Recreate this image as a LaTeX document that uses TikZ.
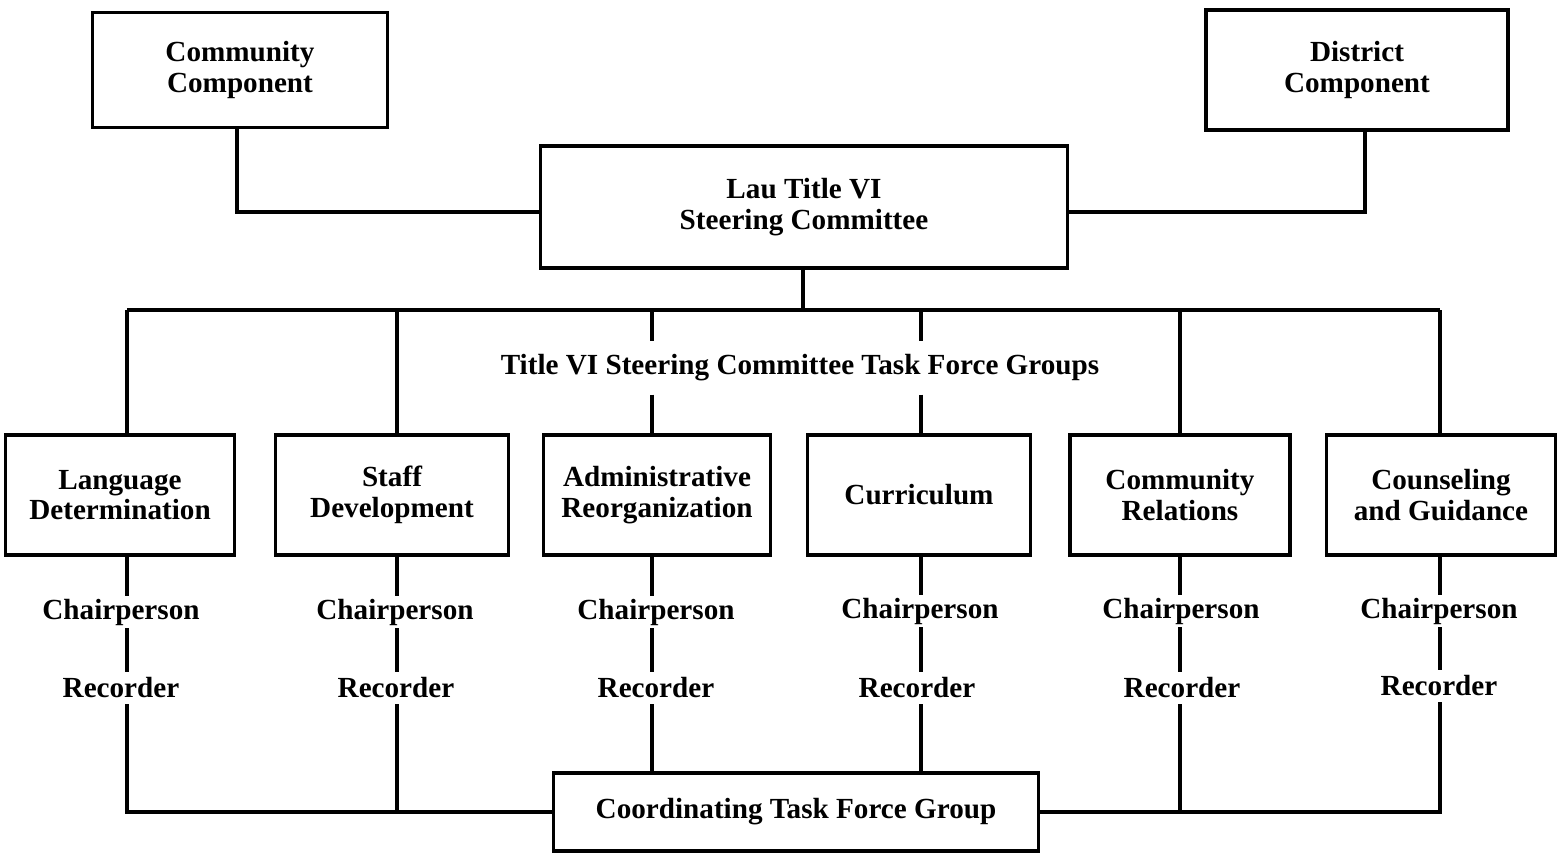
\documentclass[tikz,border=0pt]{standalone}
\usepackage{fontspec}
\setmainfont{Liberation Serif}

\begin{document}
\begin{tikzpicture}[x=0.02cm, y=-0.02cm, line width=1.8pt,
    box/.style={draw, align=center, inner sep=0pt,
      font=\bfseries\fontsize{16.6}{17.5}\selectfont},
    role/.style={inner sep=0pt, minimum height=0.58cm,
      font=\bfseries\fontsize{16.6}{17.5}\selectfont}]
  \useasboundingbox (0, 0) rectangle (1560, 856);

  \node [box, minimum width=5.9cm, minimum height=2.3cm] (community) at (240, 70) {Community\\Component};
  \node [box, minimum width=6.04cm, minimum height=2.4cm] (district) at (1357, 70) {District\\Component};
  \node [box, minimum width=10.54cm, minimum height=2.44cm] (steering) at (804, 207) {Lau Title VI\\Steering Committee};
  \node [role, minimum height=1cm] (tfg) at (800, 368) {Title VI Steering Committee Task Force Groups};

  \node [box, minimum width=4.58cm, minimum height=2.4cm] (lang) at (120, 495) {Language\\Determination};
  \node [box, minimum width=4.66cm, minimum height=2.4cm] (staff) at (392, 495) {Staff\\Development};
  \node [box, minimum width=4.54cm, minimum height=2.4cm] (admin) at (657, 495) {Administrative\\Reorganization};
  \node [box, minimum width=4.46cm, minimum height=2.4cm] (curr) at (919, 495) {Curriculum};
  \node [box, minimum width=4.4cm, minimum height=2.4cm] (comrel) at (1180, 495) {Community\\Relations};
  \node [box, minimum width=4.58cm, minimum height=2.4cm] (couns) at (1441, 495) {Counseling\\and Guidance};

  \node [role] (chair1) at (121, 612) {Chairperson};
  \node [role] (chair2) at (395, 612) {Chairperson};
  \node [role] (chair3) at (656, 612) {Chairperson};
  \node [role] (chair4) at (920, 611) {Chairperson};
  \node [role] (chair5) at (1181, 611) {Chairperson};
  \node [role] (chair6) at (1439, 611) {Chairperson};
  \node [role] (rec1) at (121, 688) {Recorder};
  \node [role] (rec2) at (396, 688) {Recorder};
  \node [role] (rec3) at (656, 688) {Recorder};
  \node [role] (rec4) at (917, 688) {Recorder};
  \node [role] (rec5) at (1182, 688) {Recorder};
  \node [role] (rec6) at (1439, 686) {Recorder};

  \node [box, minimum width=9.7cm, minimum height=1.56cm] (coord) at (796, 812) {Coordinating Task Force Group};

  \coordinate (cc) at (237, 212);
  \coordinate (dc) at (1365, 212);
  \coordinate (bus) at (803, 310);
  \coordinate (b1) at (127, 310);
  \coordinate (b2) at (397, 310);
  \coordinate (b3) at (652, 310);
  \coordinate (b4) at (921, 310);
  \coordinate (b5) at (1180, 310);
  \coordinate (b6) at (1440, 310);
  \coordinate (c1) at (127, 812);
  \coordinate (c2) at (397, 812);
  \coordinate (c5) at (1180, 812);
  \coordinate (c6) at (1440, 812);

  \draw (community.south -| cc) -- (cc) -- (cc -| steering.west);
  \draw (district.south -| dc) -- (dc) -- (dc -| steering.east);
  \draw (steering.south -| bus) -- (bus);
  \draw (b1) -- (b6);

  \draw (b1) -- (b1 |- lang.north);
  \draw (b2) -- (b2 |- staff.north);
  \draw (b3) -- (b3 |- tfg.north);
  \draw (b3 |- tfg.south) -- (b3 |- admin.north);
  \draw (b4) -- (b4 |- tfg.north);
  \draw (b4 |- tfg.south) -- (b4 |- curr.north);
  \draw (b5) -- (b5 |- comrel.north);
  \draw (b6) -- (b6 |- couns.north);

  \draw (lang.south -| b1) -- (chair1.north -| b1);
  \draw (staff.south -| b2) -- (chair2.north -| b2);
  \draw (admin.south -| b3) -- (chair3.north -| b3);
  \draw (curr.south -| b4) -- (chair4.north -| b4);
  \draw (comrel.south -| b5) -- (chair5.north -| b5);
  \draw (couns.south -| b6) -- (chair6.north -| b6);

  \draw (chair1.south -| b1) -- (rec1.north -| b1);
  \draw (chair2.south -| b2) -- (rec2.north -| b2);
  \draw (chair3.south -| b3) -- (rec3.north -| b3);
  \draw (chair4.south -| b4) -- (rec4.north -| b4);
  \draw (chair5.south -| b5) -- (rec5.north -| b5);
  \draw (chair6.south -| b6) -- (rec6.north -| b6);

  \draw (rec1.south -| c1) -- (c1) -- (coord.west);
  \draw (rec2.south -| c2) -- (c2);
  \draw (rec3.south -| b3) -- (b3 |- coord.north);
  \draw (rec4.south -| b4) -- (b4 |- coord.north);
  \draw (coord.east) -- (c6) -- (rec6.south -| c6);
  \draw (rec5.south -| c5) -- (c5);
\end{tikzpicture}
\end{document}
